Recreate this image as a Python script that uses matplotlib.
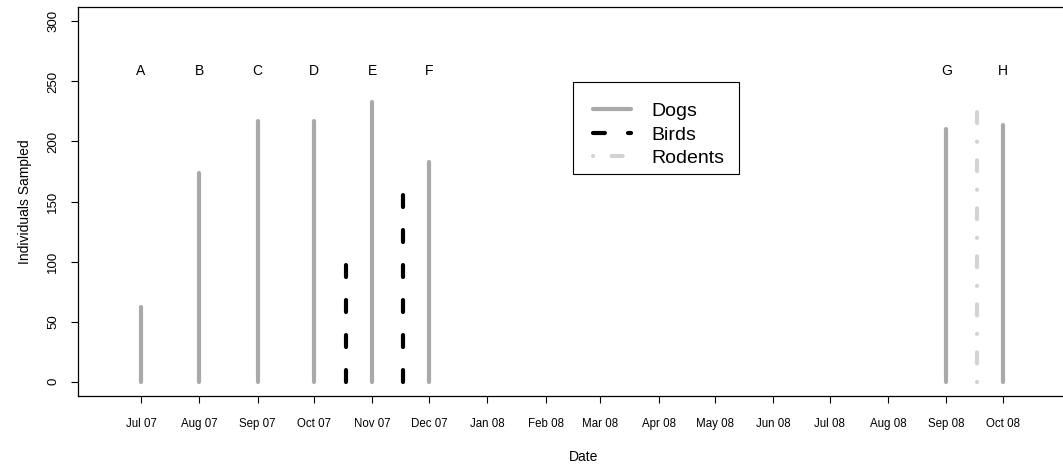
import datetime as dt

import matplotlib
import matplotlib.dates as mdates
import matplotlib.pyplot as plt
from matplotlib.patches import Rectangle

matplotlib.use("Agg")
plt.rcParams["font.family"] = ["Liberation Sans", "DejaVu Sans"]
plt.rcParams["lines.scale_dashes"] = False

# data
dog_dates = [
    dt.date(2007, 7, 1), dt.date(2007, 8, 1), dt.date(2007, 9, 1),
    dt.date(2007, 10, 1), dt.date(2007, 11, 1), dt.date(2007, 12, 1),
    dt.date(2008, 9, 1), dt.date(2008, 10, 1),
]
dog_counts = [62, 174, 217, 217, 233, 183, 210, 214]
site_letters = ["A", "B", "C", "D", "E", "F", "G", "H"]

bird_dates = [dt.date(2007, 10, 18), dt.date(2007, 11, 17)]
bird_counts = [100, 159]

rodent_dates = [dt.date(2008, 9, 17)]
rodent_counts = [229]

tick_months = [dt.date(2007 + (6 + i) // 12, (6 + i) % 12 + 1, 1) for i in range(16)]

DOG_COL = "#a9a9a9"
BIRD_COL = "black"
RODENT_COL = "#d3d3d3"
bird_ls = (0, (8.6, 16.6))
rodent_ls = (0, (0.1, 13.3, 7.9, 13.3))

fig = plt.figure(figsize=(10.63, 4.66), dpi=100, facecolor="white")
ax = fig.add_axes([78 / 1063, 70 / 466, 1012 / 1063, 389 / 466])

line_kw = dict(linewidth=3, solid_capstyle="round", dash_capstyle="round")
for d, v in zip(dog_dates, dog_counts):
    ax.plot([d, d], [0, v], color=DOG_COL, **line_kw)
for d, v in zip(bird_dates, bird_counts):
    ax.plot([d, d], [0, v], color=BIRD_COL, linestyle=bird_ls, **line_kw)
for d, v in zip(rodent_dates, rodent_counts):
    ax.plot([d, d], [0, v], color=RODENT_COL, linestyle=rodent_ls, **line_kw)

for d, lab in zip(dog_dates, site_letters):
    ax.text(d, 259, lab, ha="center", va="center", fontsize=10)

origin = mdates.date2num(dt.date(2007, 7, 1))
ax.set_xlim(origin - 33.5, origin + 504.3)
ax.set_ylim(-12, 312)

ax.set_xticks(tick_months)
ax.xaxis.set_major_formatter(mdates.DateFormatter("%b %y"))
ax.set_yticks(range(0, 301, 50))
ax.tick_params(axis="x", labelsize=8.3, length=5, width=0.8, pad=11)
ax.tick_params(axis="y", labelsize=9.5, length=5, width=0.8, pad=8.5)
for lab in ax.get_yticklabels():
    lab.set_rotation(90)
    lab.set_va("center")

for sp in ax.spines.values():
    sp.set_linewidth(0.9)

ax.set_xlabel("Date", fontsize=10, labelpad=14)
ax.set_ylabel("Individuals Sampled", fontsize=10, labelpad=11)

# legend: entries without frame, box drawn separately to match the spacing
handles = [
    plt.Line2D([], [], color=DOG_COL, **line_kw),
    plt.Line2D([], [], color=BIRD_COL, linestyle=bird_ls, **line_kw),
    plt.Line2D([], [], color=RODENT_COL, linestyle=rodent_ls, **line_kw),
]
leg = ax.legend(
    handles, ["Dogs", "Birds", "Rodents"],
    loc="upper left", bbox_to_anchor=(499 / 1012, 309 / 389),
    borderaxespad=0, fontsize=14, frameon=False,
    handlelength=2.0, handletextpad=1.0, labelspacing=0.30, borderpad=0.8,
)
ax.add_patch(Rectangle(
    (495 / 1012, (396 - 174) / 389), 166 / 1012, 92.3 / 389,
    transform=ax.transAxes, facecolor="none", edgecolor="black",
    linewidth=0.8, zorder=4,
))

fig.savefig("out.png", dpi=100)
